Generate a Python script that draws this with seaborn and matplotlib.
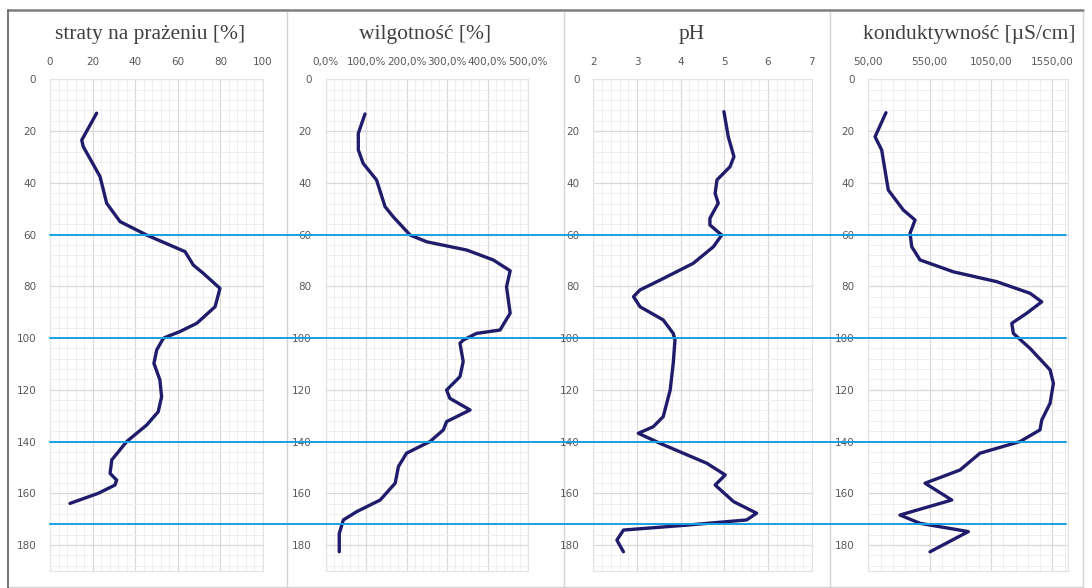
import matplotlib
matplotlib.use("Agg")
import matplotlib.pyplot as plt
import matplotlib.transforms as mtransforms
from matplotlib.lines import Line2D
from matplotlib.ticker import MultipleLocator, FixedLocator
import seaborn as sns

sns.set_style("white")

# ---------------- data ----------------
titles = ["straty na prażeniu [%]", "wilgotność [%]", "pH", "konduktywność [µS/cm]"]

loss_depth = [13.1, 23.5, 26.0, 37.6, 47.9, 55.0, 60.2, 66.6, 71.8, 75.0, 80.8, 87.9, 94.3, 97.5,
              99.5, 100.1, 104.6, 109.8, 116.2, 122.7, 128.5, 133.6, 140.0, 147.1, 152.3, 154.9,
              156.8, 160.0, 163.9]
loss_val = [21.9, 14.9, 15.6, 23.5, 26.6, 32.9, 45.4, 63.4, 67.3, 72.0, 79.8, 77.5, 68.9, 61.0,
            54.8, 53.2, 50.1, 48.8, 51.6, 52.4, 50.8, 45.4, 36.0, 29.0, 28.2, 31.3,
            30.5, 22.7, 9.4]

moist_depth = [13.4, 20.9, 27.3, 32.5, 38.9, 49.2, 53.1, 60.2, 62.8, 66.0, 69.8, 74.0, 80.2, 90.4,
               96.9, 98.2, 100.8, 102.0, 109.1, 114.9, 120.1, 123.3, 127.8, 132.3, 135.5, 140.0,
               144.5, 149.7, 156.1, 162.6, 167.1, 170.3, 175.5, 182.6]
moist_val = [97.5, 81, 81, 93, 126, 147, 167, 209, 250, 349, 414, 456, 447, 456,
             431, 373, 340, 332, 340, 332, 299, 307, 357, 299, 291, 258,
             200, 180, 172, 135, 77, 44, 34, 34]

ph_depth = [12.5, 22.2, 29.9, 33.8, 38.9, 44.1, 47.9, 53.7, 56.3, 60.2, 64.7, 71.1, 77.6, 81.4,
            84.0, 87.9, 93.0, 98.2, 100.8, 109.8, 120.1, 130.4, 134.3, 136.8, 140.7, 148.4,
            152.9, 156.8, 163.2, 167.7, 170.3, 172.3, 174.2, 178.1, 182.6]
ph_val = [4.99, 5.09, 5.22, 5.13, 4.83, 4.79, 4.86, 4.67, 4.67, 4.94, 4.75, 4.29, 3.53, 3.07,
          2.92, 3.07, 3.60, 3.83, 3.87, 3.83, 3.76, 3.60, 3.37, 3.03, 3.53, 4.60,
          5.02, 4.79, 5.21, 5.74, 5.51, 4.14, 2.69, 2.54, 2.69]

cond_depth = [12.9, 22.2, 27.3, 35.1, 42.8, 50.5, 54.4, 59.5, 64.7, 69.8, 74.4, 78.2, 82.7, 86.0,
              90.4, 94.3, 98.2, 104.0, 112.3, 117.5, 125.2, 131.7, 135.5, 140.0, 144.5, 151.0,
              156.1, 162.6, 168.4, 171.6, 174.8, 182.6]
cond_val = [194, 105, 159, 186, 213, 335, 431, 390, 404, 471, 743, 1096, 1368, 1463,
            1341, 1219, 1232, 1368, 1531, 1558, 1531, 1463, 1449, 1286, 960, 797,
            512, 730, 308, 471, 865, 553]

boundaries = [60, 100, 140, 172]

x_ticks = [[0, 20, 40, 60, 80, 100],
           [0, 100, 200, 300, 400, 500],
           [2, 3, 4, 5, 6, 7],
           [50, 550, 1050, 1550]]
x_tick_labels = [["0", "20", "40", "60", "80", "100"],
                 ["0,0%", "100,0%", "200,0%", "300,0%", "400,0%", "500,0%"],
                 ["2", "3", "4", "5", "6", "7"],
                 ["50,00", "550,00", "1050,00", "1550,00"]]
y_ticks = [0, 20, 40, 60, 80, 100, 120, 140, 160, 180]

# ---------------- layout ----------------
W, H = 1092, 588
fig = plt.figure(figsize=(W / 100, H / 100), dpi=100)
fig.patch.set_facecolor("white")

top_px = 79.3
depth_max = 190
px_per_depth = 2.5875
bot_px = top_px + depth_max * px_per_depth

panels = [
    dict(left=50, right=263, xlim=(0, 100), minor=4, depth=loss_depth, val=loss_val, tx=150),
    dict(left=325.5, right=528, xlim=(0, 500), minor=20, depth=moist_depth, val=moist_val, tx=425),
    dict(left=593.3, right=811.7, xlim=(2, 7), minor=0.2, depth=ph_depth, val=ph_val, tx=692),
    dict(left=868.3, right=1068, xlim=(50, 1677), minor=100, depth=cond_depth, val=cond_val, tx=969),
]

line_color = "#1f1d6b"
tick_color = "#595959"
axes = []
for i, p in enumerate(panels):
    ax = fig.add_axes([p["left"] / W, 1 - bot_px / H, (p["right"] - p["left"]) / W,
                       (bot_px - top_px) / H])
    axes.append(ax)
    ax.set_facecolor("white")
    sns.lineplot(x=p["val"], y=p["depth"], ax=ax, sort=False, estimator=None,
                 color=line_color, linewidth=2.4, zorder=3)
    ax.lines[-1].set_solid_joinstyle("round")
    ax.lines[-1].set_solid_capstyle("round")
    ax.set_xlim(*p["xlim"])
    ax.set_ylim(depth_max, 0)
    ax.xaxis.tick_top()
    ax.xaxis.set_major_locator(FixedLocator(x_ticks[i]))
    ax.set_xticklabels(x_tick_labels[i])
    ax.xaxis.set_minor_locator(MultipleLocator(p["minor"], offset=p["xlim"][0]))
    ax.yaxis.set_major_locator(FixedLocator(y_ticks))
    ax.set_yticklabels([str(v) for v in y_ticks])
    ax.yaxis.set_minor_locator(MultipleLocator(4))
    ax.grid(which="major", color="#d9d9d9", linewidth=0.9)
    ax.grid(which="minor", color="#ececec", linewidth=0.6)
    ax.set_axisbelow(True)
    ax.tick_params(which="both", length=0)
    ax.tick_params(axis="x", pad=9, labelsize=7.5, labelcolor=tick_color)
    ax.tick_params(axis="y", pad=10, labelsize=7.5, labelcolor=tick_color)
    for s in ax.spines.values():
        s.set_color("#e3e3e3")
        s.set_linewidth(0.8)
    ax.set_xlabel("")
    ax.set_ylabel("")
    fig.text(p["tx"] / W, 1 - 35 / H, titles[i], ha="center", va="center",
             fontsize=15.5, family="Liberation Serif", color="#404040")

# panel frames
frame_kw = dict(transform=fig.transFigure, color="#d4d4d4", linewidth=1.0, zorder=0)
for xs in [287, 564, 830, 1083]:
    fig.add_artist(Line2D([xs / W, xs / W], [1 - 12 / H, 0.0], **frame_kw))
fig.add_artist(Line2D([8 / W, 1083 / W], [1 / H, 1 / H], **frame_kw))
fig.add_artist(Line2D([8 / W, 1083 / W], [1 - 10 / H, 1 - 10 / H], transform=fig.transFigure,
                      color="#7f7f7f", linewidth=1.8, zorder=1))
fig.add_artist(Line2D([8 / W, 8 / W], [1 - 10 / H, 0.0], transform=fig.transFigure,
                      color="#5f5f5f", linewidth=1.2, zorder=1))

# horizontal layer boundaries across all panels
trans = mtransforms.blended_transform_factory(fig.transFigure, axes[0].transData)
for d in boundaries:
    fig.add_artist(Line2D([50 / W, 1066 / W], [d, d], transform=trans,
                          color="#17a0e3", linewidth=1.4, zorder=10))

fig.savefig("out.png", dpi=100, facecolor="white")
